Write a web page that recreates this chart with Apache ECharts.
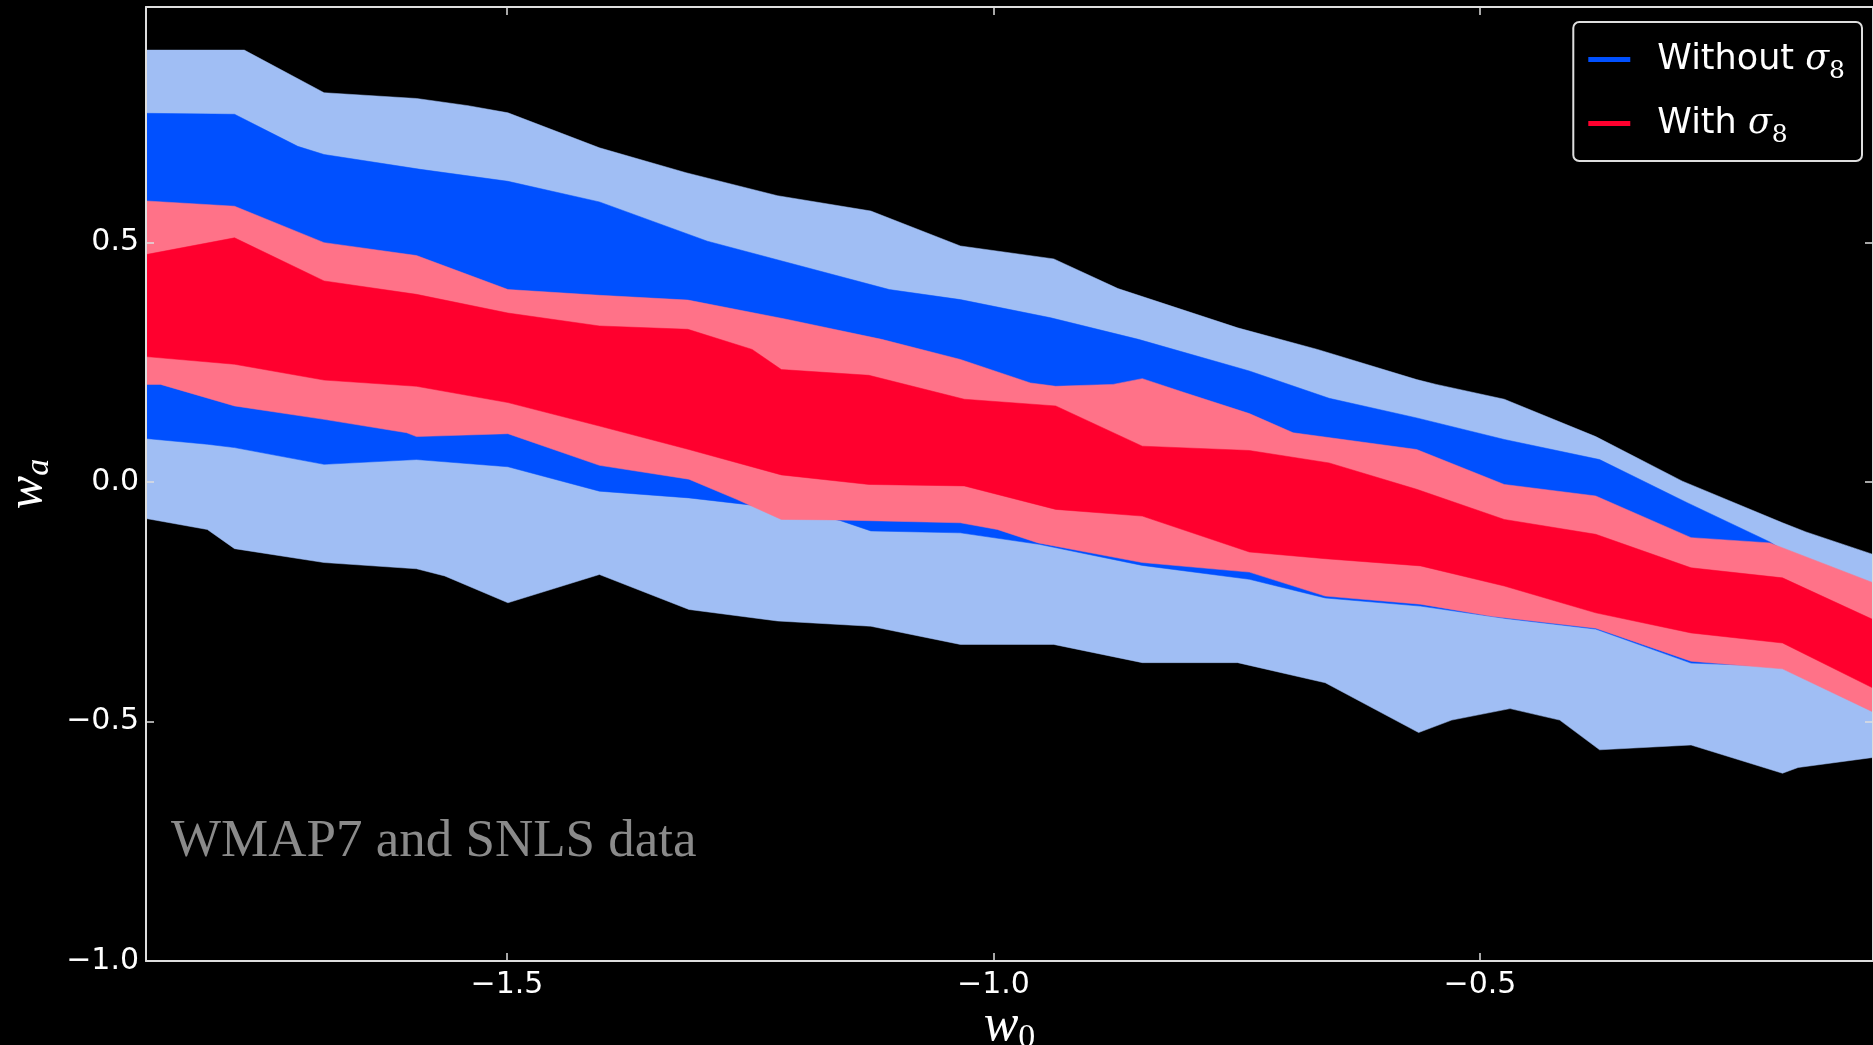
<!DOCTYPE html>
<html>
<head>
<meta charset="utf-8">
<script src="https://cdn.jsdelivr.net/npm/echarts@6/dist/echarts.min.js"></script>
<style>
html,body{margin:0;padding:0;background:#000;}
#chart{width:1873px;height:1045px;}
</style>
</head>
<body>
<div id="chart"></div>
<script>
// ---- data (w0, wa) boundaries of each confidence band ----
const lightBlueUpper = [[-1.871,0.902],[-1.770,0.902],[-1.688,0.813],[-1.593,0.801],[-1.540,0.786],[-1.499,0.771],[-1.405,0.698],[-1.316,0.646],[-1.222,0.598],[-1.126,0.566],[-1.034,0.493],[-0.938,0.466],[-0.872,0.404],[-0.749,0.322],[-0.667,0.277],[-0.565,0.214],[-0.545,0.204],[-0.475,0.173],[-0.381,0.095],[-0.292,0.002],[-0.189,-0.085],[-0.165,-0.104],[-0.096,-0.151]];
const lightBlueLower = [[-1.871,-0.076],[-1.808,-0.099],[-1.780,-0.139],[-1.688,-0.168],[-1.593,-0.181],[-1.564,-0.196],[-1.499,-0.252],[-1.405,-0.193],[-1.313,-0.266],[-1.222,-0.290],[-1.126,-0.301],[-1.034,-0.339],[-0.938,-0.339],[-0.847,-0.377],[-0.749,-0.377],[-0.659,-0.419],[-0.563,-0.523],[-0.529,-0.497],[-0.469,-0.473],[-0.418,-0.497],[-0.377,-0.559],[-0.283,-0.549],[-0.189,-0.608],[-0.173,-0.596],[-0.096,-0.575]];
const darkBlueUpper = [[-1.871,0.770],[-1.780,0.768],[-1.715,0.701],[-1.688,0.684],[-1.589,0.653],[-1.499,0.628],[-1.405,0.585],[-1.294,0.503],[-1.107,0.402],[-1.034,0.381],[-0.941,0.343],[-0.851,0.298],[-0.737,0.232],[-0.655,0.175],[-0.565,0.134],[-0.475,0.089],[-0.377,0.047],[-0.287,-0.043],[-0.202,-0.125],[-0.096,-0.260]];
const darkBlueLower = [[-1.871,0.091],[-1.808,0.079],[-1.780,0.072],[-1.688,0.037],[-1.593,0.047],[-1.499,0.032],[-1.405,-0.019],[-1.313,-0.033],[-1.219,-0.055],[-1.158,-0.080],[-1.126,-0.102],[-1.034,-0.106],[-0.953,-0.130],[-0.847,-0.174],[-0.737,-0.203],[-0.659,-0.242],[-0.561,-0.259],[-0.473,-0.285],[-0.381,-0.307],[-0.283,-0.378],[-0.189,-0.385],[-0.096,-0.450]];
const pinkUpper = [[-1.871,0.587],[-1.780,0.576],[-1.688,0.500],[-1.593,0.473],[-1.499,0.402],[-1.405,0.390],[-1.314,0.380],[-1.213,0.340],[-1.115,0.298],[-1.034,0.256],[-0.962,0.207],[-0.936,0.200],[-0.877,0.204],[-0.847,0.216],[-0.804,0.187],[-0.737,0.143],[-0.692,0.103],[-0.565,0.068],[-0.475,-0.005],[-0.381,-0.029],[-0.283,-0.116],[-0.202,-0.127],[-0.096,-0.210]];
const pinkLower = [[-1.871,0.204],[-1.856,0.204],[-1.780,0.159],[-1.688,0.131],[-1.603,0.103],[-1.593,0.095],[-1.499,0.101],[-1.405,0.035],[-1.313,0.006],[-1.264,-0.036],[-1.218,-0.078],[-1.162,-0.079],[-1.034,-0.085],[-0.996,-0.099],[-0.954,-0.127],[-0.936,-0.134],[-0.847,-0.168],[-0.737,-0.188],[-0.659,-0.238],[-0.561,-0.255],[-0.488,-0.280],[-0.381,-0.305],[-0.283,-0.374],[-0.189,-0.390],[-0.096,-0.480]];
const redUpper = [[-1.871,0.475],[-1.780,0.510],[-1.688,0.420],[-1.593,0.392],[-1.499,0.353],[-1.405,0.326],[-1.314,0.319],[-1.248,0.277],[-1.218,0.235],[-1.128,0.223],[-1.030,0.173],[-0.936,0.159],[-0.847,0.075],[-0.737,0.066],[-0.655,0.040],[-0.565,-0.015],[-0.475,-0.078],[-0.381,-0.109],[-0.283,-0.179],[-0.189,-0.200],[-0.096,-0.287]];
const redLower = [[-1.871,0.262],[-1.780,0.246],[-1.688,0.213],[-1.593,0.200],[-1.499,0.166],[-1.405,0.117],[-1.313,0.068],[-1.218,0.015],[-1.128,-0.005],[-1.030,-0.008],[-0.936,-0.057],[-0.847,-0.071],[-0.737,-0.146],[-0.659,-0.160],[-0.561,-0.175],[-0.475,-0.217],[-0.381,-0.273],[-0.283,-0.315],[-0.189,-0.336],[-0.096,-0.430]];

const xTicks = [-1.5, -1.0, -0.5];
const yTicks = [-1.0, -0.5, 0.0, 0.5];
const xRange = [-1.871, -0.096];
const yRange = [-1.0, 0.992];
const seriesNames = ['Without σ8', 'With σ8'];
const annotation = 'WMAP7 and SNLS data';

const COLORS = {lb:'#a0bef4', db:'#0050ff', pk:'#ff7288', rd:'#ff002e'};
const AX = '#dedede';

function fmt(v){ return (v < 0 ? '\u2212' : '') + Math.abs(v).toFixed(1); }

function band(name, upper, lower, color){
  const poly = upper.concat(lower.slice().reverse());
  return {
    type:'custom', name:name, coordinateSystem:'cartesian2d',
    xAxisIndex:0, yAxisIndex:0,
    itemStyle:{color:color}, silent:true, animation:false, clip:true,
    data: poly, encode:{x:0, y:1},
    renderItem: function(params, api){
      if (params.dataIndex !== 0) return null;
      const pts = poly.map(p => api.coord(p));
      return {type:'polygon', shape:{points:pts}, style:{fill:color, stroke:color, lineWidth:0.5}};
    }
  };
}

const chart = echarts.init(document.getElementById('chart'), null, {renderer:'canvas'});
const tickFont = {color:'#fff', fontFamily:'DejaVu Sans', fontSize:30};
const axisCommon = {
  z: 10,
  axisLine:{show:true, onZero:false, lineStyle:{color:AX, width:2}},
  splitLine:{show:false}
};
const option = {
  backgroundColor:'#000',
  animation:false,
  grid:{left:146, right:0, top:7, bottom:84, containLabel:false, outerBoundsMode:'none'},
  title:{
    text: annotation, left:166, top:811,
    textStyle:{fontFamily:'Liberation Serif', fontSize:53, fontWeight:'normal', color:'#8a8a8a'}
  },
  legend:{
    orient:'vertical', right:11, top:22,
    padding:[20,17,13,15], itemGap:22,
    backgroundColor:'#000', borderColor:AX, borderWidth:2, borderRadius:6,
    icon:'rect', itemWidth:42, itemHeight:5,
    data:[
      {name:seriesNames[0], itemStyle:{color:COLORS.db}},
      {name:seriesNames[1], itemStyle:{color:COLORS.rd}}
    ],
    formatter: function(name){
      const base = name.replace(' σ8','');
      return '{g|}{t|' + base + ' }{s|σ}{n|8}';
    },
    textStyle:{
      color:'#fff',
      rich:{
        g:{width:22},
        t:{fontFamily:'DejaVu Sans', fontSize:35, color:'#fff', lineHeight:48},
        s:{fontFamily:'DejaVu Serif', fontStyle:'italic', fontSize:35, color:'#fff'},
        n:{fontFamily:'DejaVu Serif', fontSize:25, color:'#fff', padding:[24,0,0,0]}
      }
    }
  },
  xAxis:[
    Object.assign({}, axisCommon, {
      type:'value', position:'bottom', min:xRange[0], max:xRange[1],
      axisTick:{show:true, inside:true, length:8, customValues:xTicks, lineStyle:{color:AX, width:1.5}},
      axisLabel:Object.assign({show:true, margin:9, customValues:xTicks, formatter:fmt}, tickFont),
      name:'{w|w}{s|0}', nameLocation:'middle', nameGap:36, nameMoveOverlap:false,
      nameTextStyle:{rich:{
        w:{fontFamily:'Liberation Serif', fontStyle:'italic', fontSize:52, color:'#fff'},
        s:{fontFamily:'Liberation Serif', fontSize:34, color:'#fff', padding:[24,0,0,0]}
      }}
    }),
    Object.assign({}, axisCommon, {
      type:'value', position:'top', min:xRange[0], max:xRange[1],
      axisTick:{show:true, inside:true, length:8, customValues:xTicks, lineStyle:{color:AX, width:1.5}},
      axisLabel:{show:false}
    })
  ],
  yAxis:[
    Object.assign({}, axisCommon, {
      type:'value', position:'left', min:yRange[0], max:yRange[1],
      axisTick:{show:true, inside:true, length:8, customValues:yTicks, lineStyle:{color:AX, width:1.5}},
      axisLabel:Object.assign({show:true, margin:7, customValues:yTicks, formatter:fmt}, tickFont),
      name:'{w|w}{s|a}', nameLocation:'middle', nameGap:90, nameRotate:90, nameMoveOverlap:false,
      nameTextStyle:{rich:{
        w:{fontFamily:'Liberation Serif', fontStyle:'italic', fontSize:50, color:'#fff'},
        s:{fontFamily:'Liberation Serif', fontStyle:'italic', fontSize:34, color:'#fff', padding:[22,0,0,0]}
      }}
    }),
    Object.assign({}, axisCommon, {
      type:'value', position:'right', min:yRange[0], max:yRange[1],
      axisTick:{show:true, inside:true, length:8, customValues:yTicks, lineStyle:{color:AX, width:1.5}},
      axisLabel:{show:false}
    })
  ],
  series:[
    band(seriesNames[0], lightBlueUpper, lightBlueLower, COLORS.lb),
    band(seriesNames[0], darkBlueUpper, darkBlueLower, COLORS.db),
    band(seriesNames[1], pinkUpper, pinkLower, COLORS.pk),
    band(seriesNames[1], redUpper, redLower, COLORS.rd)
  ]
};
chart.setOption(option);
</script>
</body>
</html>
